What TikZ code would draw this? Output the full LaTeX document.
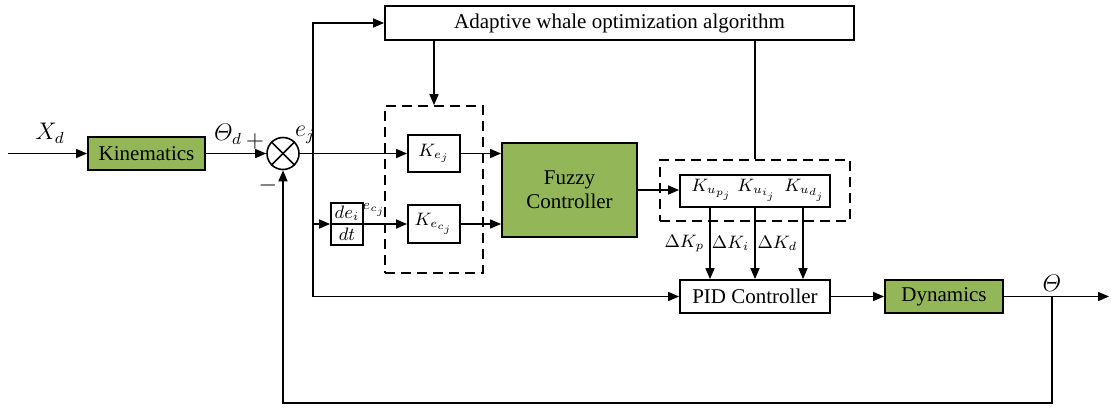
\documentclass[tikz,border=0pt]{standalone}
\usepackage{amsmath}
\usepackage{fontspec}
\setmainfont{Liberation Serif}
\usetikzlibrary{arrows.meta, positioning, calc}
\definecolor{blockgreen}{RGB}{146,182,88}
\tikzset{
	blk/.style={draw, line width=0.9pt, inner sep=0pt, align=center},
	gblk/.style={blk, fill=blockgreen},
	grp/.style={draw, line width=0.8pt, dash pattern=on 5pt off 3pt, inner sep=0pt},
	arr/.style={-{Triangle[length=5.5pt, width=4.5pt]}, line width=0.7pt},
	ln/.style={line width=0.7pt},
	sig/.style={font=\fontsize{12}{14}\selectfont, inner sep=0pt},
	gain/.style={font=\fontsize{9}{11}\selectfont, inner sep=1pt}
}
\begin{document}
\begin{tikzpicture}[x=0.5pt, y=-0.5pt, font=\rmfamily\fontsize{10.5}{12}\selectfont]
			\useasboundingbox (0,0) rectangle (1111,409);
			\node[gblk, minimum width=58.5pt, minimum height=16.5pt] (kin) at (146.5,153.5) {Kinematics};
			\node[draw, circle, line width=0.8pt, minimum size=16pt, inner sep=0pt] (sum) at (283,153.5) {};
			\draw[line width=0.8pt] (sum.north east) -- (sum.south west);
			\draw[line width=0.8pt] (sum.north west) -- (sum.south east);
			\node[blk, minimum width=234.5pt, minimum height=17pt] (awoa) at (619.5,23) {Adaptive whale optimization algorithm};
			\node[grp, minimum width=49pt, minimum height=83.5pt] (grp1) at (434,189.5) {};
			\node[blk, gain, minimum width=26pt, minimum height=18.5pt] (kej) at (434,153.5) {$K_{e_j}$};
			\node[blk, gain, minimum width=26pt, minimum height=19pt] (kec) at (434,224) {$K_{e_{c_j}}$};
			\node[blk, minimum width=16pt, minimum height=21pt] (dedt) at (347,224) {};
			\draw[line width=0.9pt] (dedt.west) -- (dedt.east);
			\node[gain] (dei) at (347,213.5) {$de_i$};
			\node[gain] (dt) at (347,234.5) {$dt$};
			\node[gblk, minimum width=67.5pt, minimum height=47pt] (fuzzy) at (569.5,190) {Fuzzy\\Controller};
			\node[grp, minimum width=95pt, minimum height=30.5pt] (grp2) at (755,190.5) {};
			\node[blk, minimum width=75pt, minimum height=16pt] (ku) at (755,191) {};
			\node[gain] (kup) at (712,190) {$K_{u_{p_j}}$};
			\node[gain] (kui) at (757,190) {$K_{u_{i_j}}$};
			\node[gain] (kud) at (805,190) {$K_{u_{d_j}}$};
			\node[blk, minimum width=75pt, minimum height=16.5pt] (pid) at (755,296.5) {PID Controller};
			\node[gblk, minimum width=59pt, minimum height=16.5pt] (dyn) at (944,296.5) {Dynamics};
			\coordinate (in) at (8,153.5);
			\coordinate (br) at (313,153.5);
			\coordinate (tap) at (1052,296.5);
			\coordinate (out) at (1109,296.5);
			\coordinate (fb) at (283,403);
			\coordinate (dkp) at (710,0);
			\coordinate (dkd) at (803,0);
			\draw[arr] (in) -- (kin.west);
			\node[sig] at (50,133) {$X_d$};
			\draw[arr] (kin.east) -- (sum.west);
			\node[sig] at (228,134) {$\varTheta_d$};
			\node[sig] at (255,141) {$+$};
			\node[sig] at (268,185) {$-$};
			\draw[arr] (sum.east) -- (kej.west);
			\node[sig] at (305,135) {$e_j$};
			\draw[arr] (br) |- (awoa.west);
			\draw[arr] (br) |- (pid.west);
			\draw[arr] (br |- dedt) -- (dedt.west);
			\draw[arr] (dedt.east) -- (kec.west);
			\node[font=\fontsize{7.5}{9}\selectfont] at (374,210) {$e_{c_j}$};
			\draw[arr] (awoa.south -| grp1.north) -- (grp1.north);
			\draw[ln] (awoa.south -| grp2.north) -- (grp2.north);
			\draw[arr] (kej.east) -- (kej.east -| fuzzy.west);
			\draw[arr] (kec.east) -- (kec.east -| fuzzy.west);
			\draw[arr] (fuzzy.east) -- (fuzzy.east -| ku.west);
			\draw[arr] (dkp |- ku.south) -- (dkp |- pid.north) node[gain, midway, left=1.5pt] {$\Delta K_p$};
			\draw[arr] (ku.south) -- (pid.north) node[gain, midway, left=1.5pt] {$\Delta K_i$};
			\draw[arr] (dkd |- ku.south) -- (dkd |- pid.north) node[gain, midway, left=1.5pt] {$\Delta K_d$};
			\draw[arr] (pid.east) -- (dyn.west);
			\draw[arr] (dyn.east) -- (out);
			\node[sig] at (1052,283) {$\varTheta$};
			\draw[arr] (tap) |- (fb) -- (sum.south);
		\end{tikzpicture}
\end{document}
